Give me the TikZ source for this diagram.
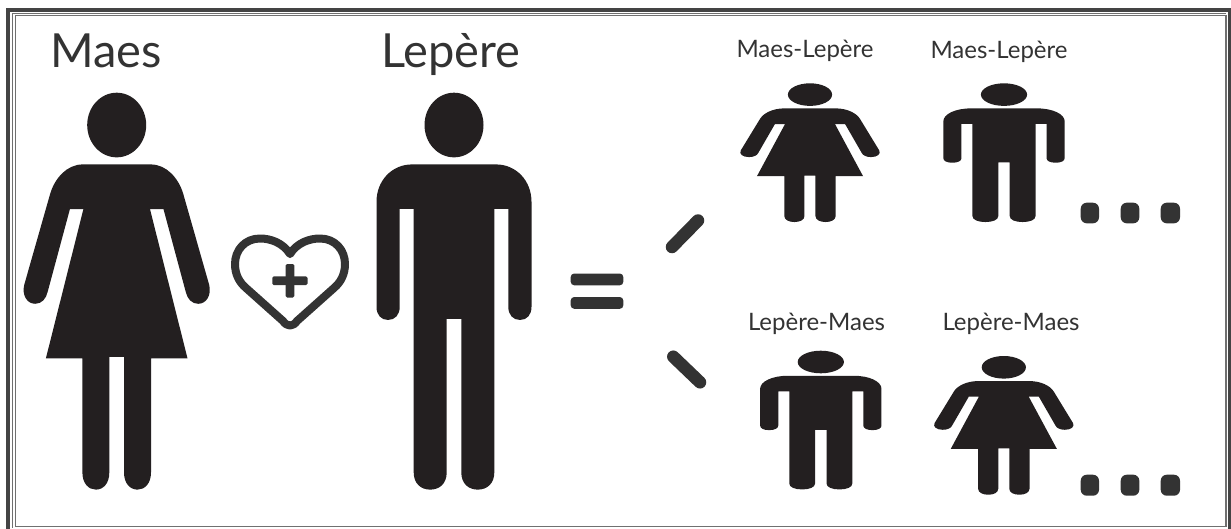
\documentclass[tikz,border=0pt]{standalone}
\usepackage{fontspec}
\setmainfont{Lato}
\definecolor{ink}{HTML}{231F20}
\definecolor{soft}{HTML}{333333}
\definecolor{frameC}{HTML}{444444}
\definecolor{frameT}{HTML}{707070}
\tikzset{
  woman/.pic={
    \fill[ink] (0,32) ellipse [x radius=29.5,y radius=32];
    \fill[ink] (-34,71) -- (34,71) .. controls (50,71) and (62,85) .. (66.5,100)
      -- (92.4,190) .. controls (95,200) and (90,209) .. (81.5,209)
      .. controls (75,209) and (70.5,204) .. (69,197) -- (46.8,115.3) -- (33.3,115.3)
      -- (70.8,263) -- (34.3,263) -- (34.3,376) .. controls (34.3,387) and (28,393) .. (20.8,393)
      .. controls (13.5,393) and (7.3,387) .. (7.3,376) -- (7.3,261.5) -- (-7.4,261.5)
      -- (-7.4,376) .. controls (-7.4,387) and (-13.5,393) .. (-20.8,393)
      .. controls (-28,393) and (-34.3,387) .. (-34.3,376) -- (-34.3,263) -- (-70.8,263)
      -- (-33.3,115.3) -- (-46.8,115.3) -- (-69,197)
      .. controls (-70.5,204) and (-75,209) .. (-81.5,209)
      .. controls (-90,209) and (-95,200) .. (-92.4,190) -- (-66.5,100)
      .. controls (-62,85) and (-50,71) .. (-34,71) -- cycle;
  },
  man/.pic={
    \fill[ink] (0,32) ellipse [x radius=29.5,y radius=32];
    \fill[ink] (-42,71) -- (42,71) .. controls (62,71) and (77.5,87) .. (77.5,108)
      -- (77.5,212) .. controls (77.5,220) and (73,225) .. (66,225)
      .. controls (59,225) and (54.3,220) .. (54.3,212) -- (54.3,115) -- (40.3,115)
      -- (40.3,376) .. controls (40.3,387) and (33,393) .. (23.8,393)
      .. controls (14.5,393) and (7.3,387) .. (7.3,376) -- (7.3,224) -- (-7.3,224)
      -- (-7.3,376) .. controls (-7.3,387) and (-14.5,393) .. (-23.8,393)
      .. controls (-33,393) and (-40.3,387) .. (-40.3,376) -- (-40.3,115) -- (-54.3,115)
      -- (-54.3,212) .. controls (-54.3,220) and (-59,225) .. (-66,225)
      .. controls (-73,225) and (-77.5,220) .. (-77.5,212) -- (-77.5,108)
      .. controls (-77.5,87) and (-62,71) .. (-42,71) -- cycle;
  },
  dotmark/.style={fill=soft,rounded corners=6pt},
  barmark/.style={fill=soft,rounded corners=3.5pt},
  plusmark/.style={fill=soft,rounded corners=1.5pt},
  slash/.style={line width=12.5pt,draw=soft,line cap=round},
  bigname/.style={font=\fontsize{47}{47}\selectfont,text=soft,inner sep=0pt,anchor=base},
  smallname/.style={font=\fontsize{24}{24}\selectfont,text=soft,inner sep=0pt,anchor=base},
}
\begin{document}
\begin{tikzpicture}[x=1pt,y=-1pt]
\useasboundingbox (0,0) rectangle (1231,528);
\fill[white] (0,0) rectangle (1231,528);
\draw[frameC,line width=4pt] (8,10) rectangle (1230,532);
\draw[frameT,line width=1.6pt] (15.5,15.5) rectangle (1226,526.5);
\draw[frameT,line width=1pt] (12.5,528) -- (12.5,13.5) -- (1226,13.5);
\node[bigname] (maes) at (106,67) {Maes};
\node[bigname] (lepere) at (451,67) {Lepère};
\node[smallname] (t1) at (805,57) {Maes-Lepère};
\node[smallname] (t2) at (999,58) {Maes-Lepère};
\node[smallname] (t3) at (816.5,330) {Lepère-Maes};
\node[smallname] (t4) at (1011,330) {Lepère-Maes};
\pic[yscale=1.01] at (116.7,92.7) {woman};
\pic[yscale=1.01] at (454,92.7) {man};
\pic[xscale=.749,yscale=.353] at (810,83.3) {woman};
\pic[xscale=.783,yscale=.353] at (1004,83.3) {man};
\pic[xscale=.783,yscale=.353] at (820.8,350.7) {man};
\pic[xscale=.749,yscale=.353] at (1003.8,356) {woman};
\draw[soft,line width=8pt,line join=round] (290,254)
  .. controls (283,243) and (271,238.5) .. (260,238.5)
  .. controls (245,238.5) and (235,250) .. (235,264)
  .. controls (235,274) and (239,282) .. (246,288) -- (283,321)
  .. controls (287,327) and (293,327) .. (297,321) -- (334,288)
  .. controls (341,282) and (345,274) .. (345,264)
  .. controls (345,250) and (335,238.5) .. (320,238.5)
  .. controls (309,238.5) and (297,243) .. (290,254) -- cycle;
\fill[plusmark] (272.3,276.4) rectangle (307.5,285.2);
\fill[plusmark] (285.6,264) rectangle (294.4,297.5);
\fill[barmark] (570.7,273.5) rectangle (623.3,285.3);
\fill[barmark] (570.7,297) rectangle (623.3,308.8);
\draw[slash] (672,247) -- (698,220.5);
\draw[slash] (673.3,356.7) -- (700,382.3);
\foreach \a/\b in {1080.7/1099,1120.7/1139.3,1160.7/1180}{
  \fill[dotmark] (\a,202.7) rectangle (\b,223.3);
  \fill[dotmark] (\a,474.7) rectangle (\b,495.7);
}
\end{tikzpicture}
\end{document}
